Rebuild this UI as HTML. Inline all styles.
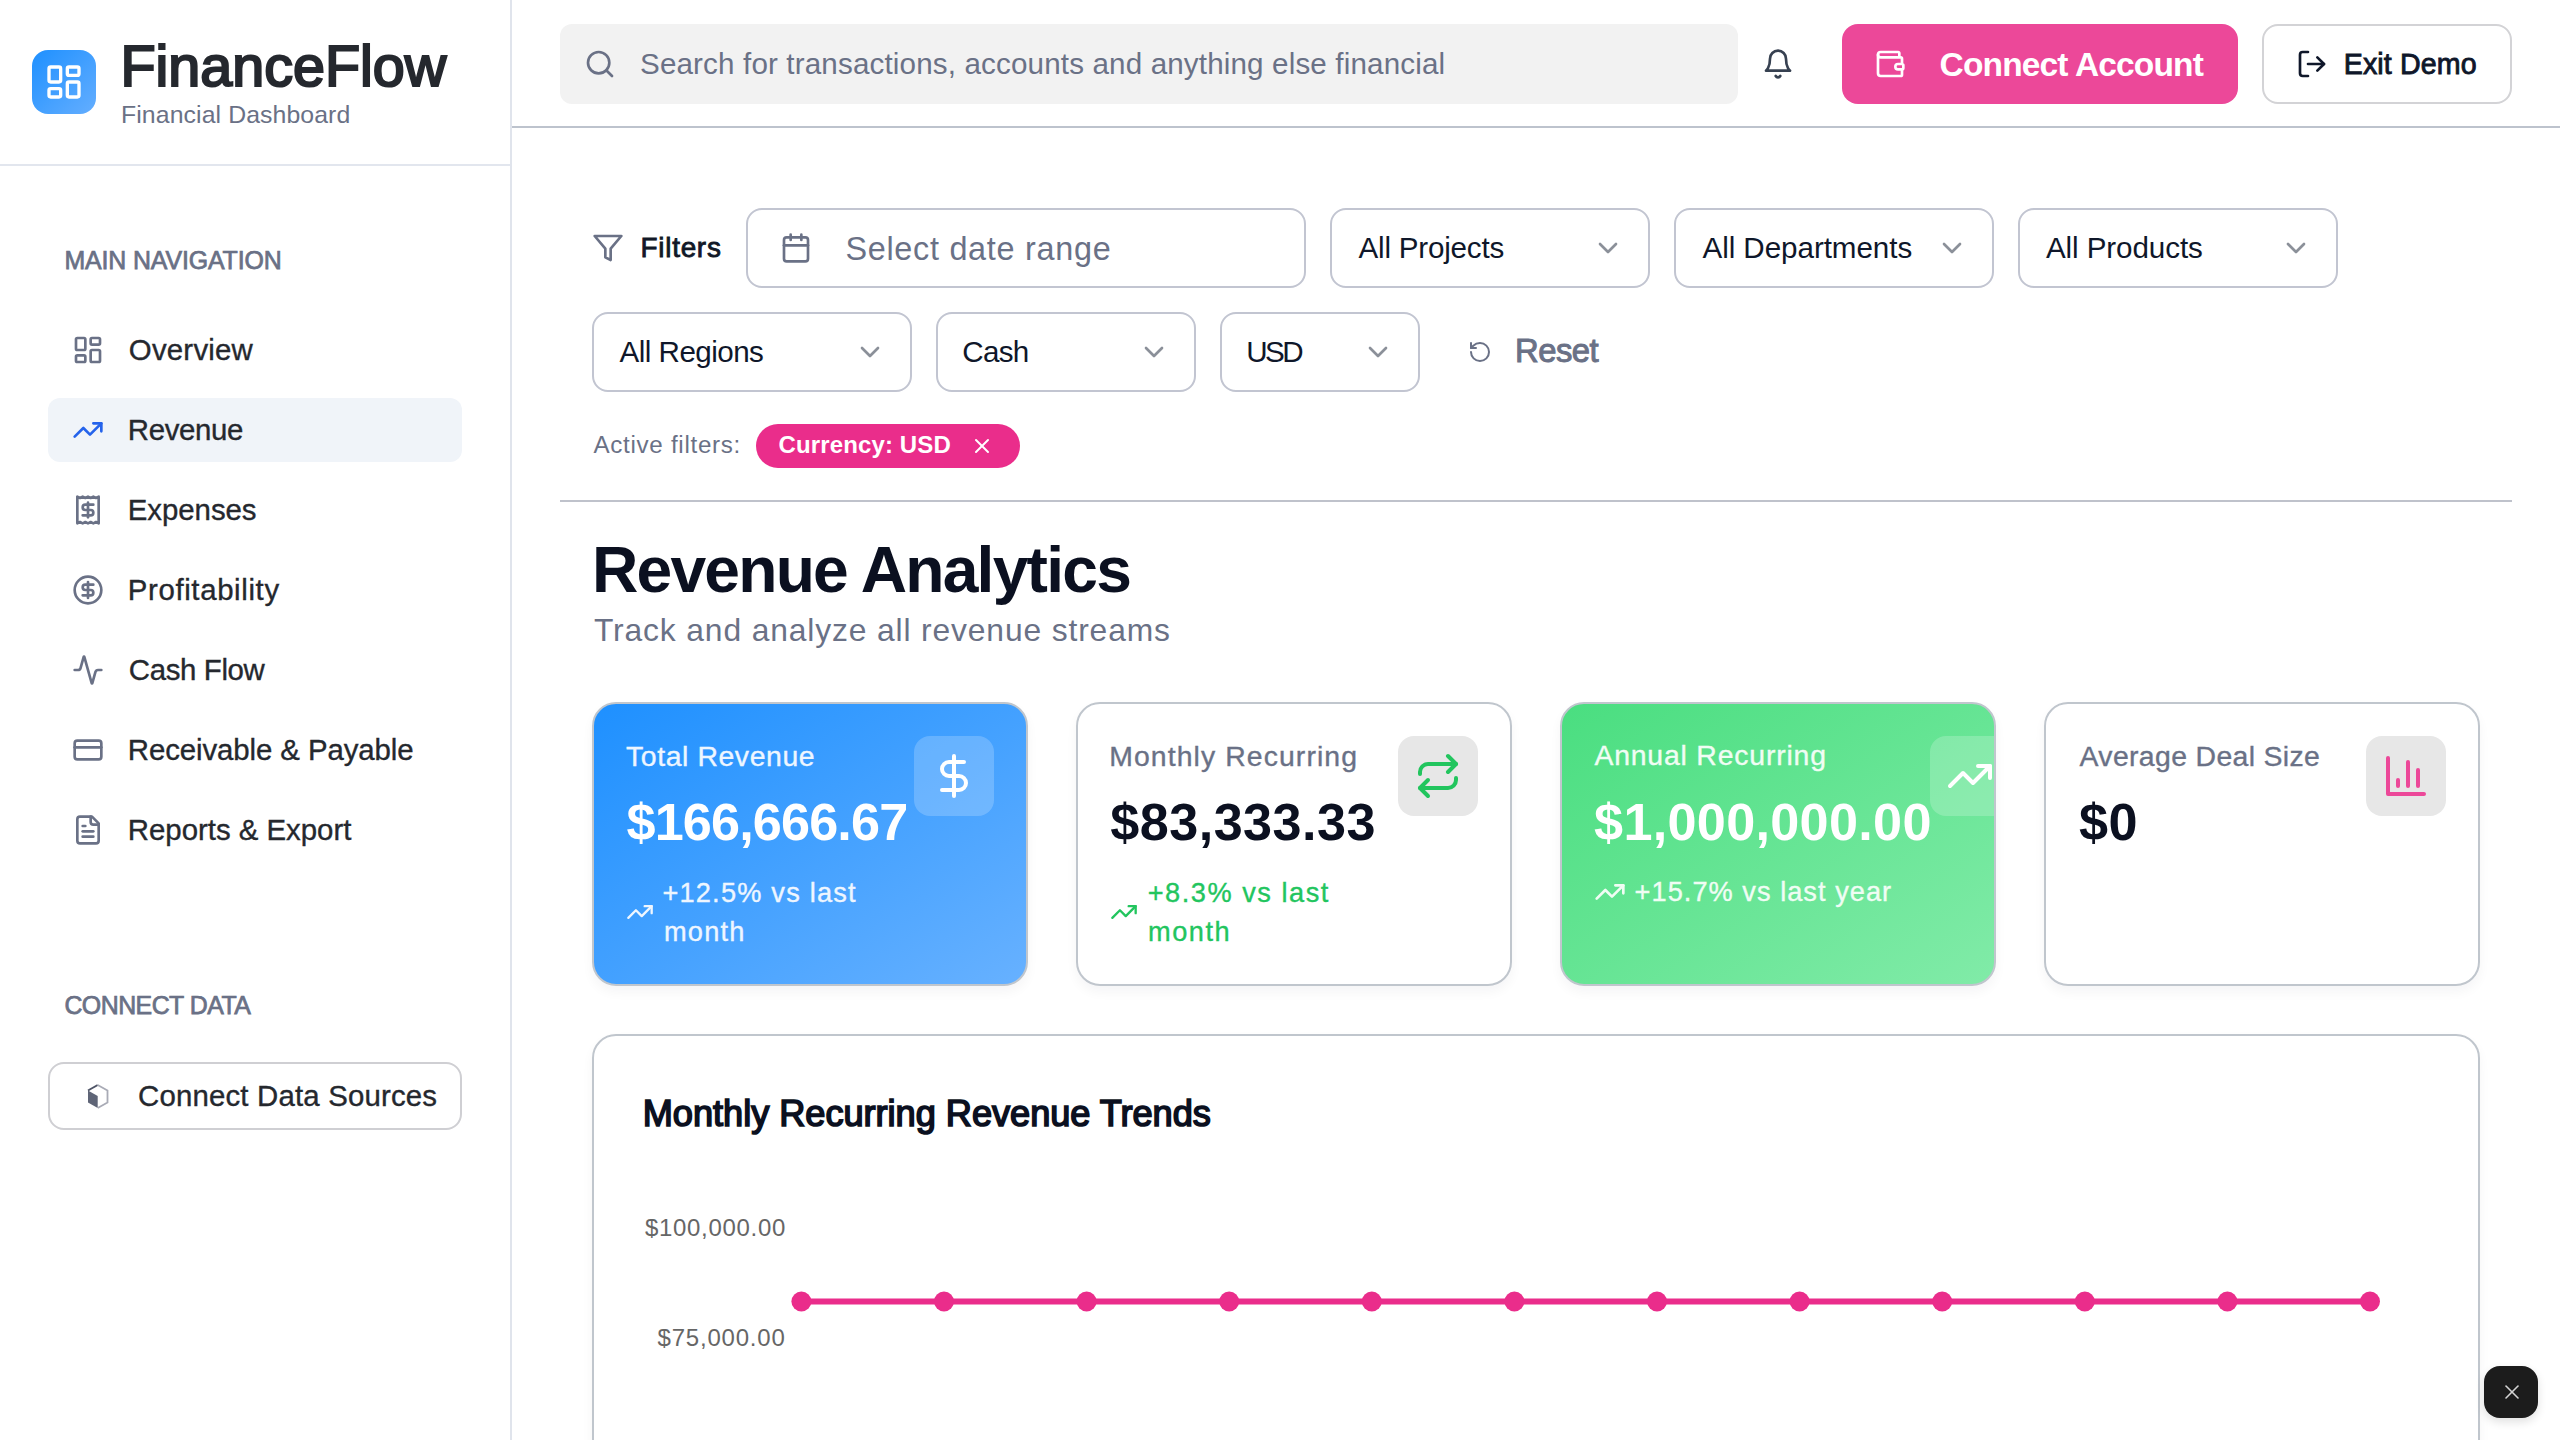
<!DOCTYPE html>
<html><head><meta charset="utf-8"><title>FinanceFlow - Revenue Analytics</title>
<style>
html,body{margin:0;padding:0;}
body{width:2560px;height:1440px;overflow:hidden;position:relative;background:#ffffff;font-family:"Liberation Sans",sans-serif;}
.t{position:absolute;white-space:nowrap;}
.b{position:absolute;}
.i{position:absolute;overflow:visible;}
@media (max-width:1400px){html{zoom:0.5;}}
</style></head><body>
<div class="b" style="left:510px;top:0px;width:2px;height:1440px;background:#e0e4ec;"></div>
<div class="b" style="left:0px;top:164px;width:510px;height:2px;background:#e2e6ee;"></div>
<div class="b" style="left:32px;top:50px;width:64px;height:64px;border-radius:16px;background:linear-gradient(to bottom right,#1e90ff 0%,#64aeff 100%);"></div>
<svg class="i" style="left:44px;top:62px;" width="40" height="40" viewBox="0 0 24 24" fill="none" stroke="#ffffff" stroke-width="2" stroke-linecap="round" stroke-linejoin="round"><rect width="7" height="9" x="3" y="3" rx="1"/><rect width="7" height="5" x="14" y="3" rx="1"/><rect width="7" height="9" x="14" y="12" rx="1"/><rect width="7" height="5" x="3" y="16" rx="1"/></svg>
<div class="t" style="left:120.40px;top:37.55px;font-size:57.5px;line-height:57.5px;color:#25282e;letter-spacing:0.0px;-webkit-text-stroke:2.19px #25282e;">FinanceFlow</div>
<div class="t" style="left:121.00px;top:102.60px;font-size:24.8px;line-height:24.8px;color:#6a7186;letter-spacing:0.101px;">Financial Dashboard</div>
<div class="t" style="left:64.40px;top:248.45px;font-size:24.9px;line-height:24.9px;color:#6a7186;letter-spacing:-0.122px;-webkit-text-stroke:0.75px #6a7186;">MAIN NAVIGATION</div>
<div class="b" style="left:48px;top:398px;width:414px;height:64px;border-radius:12px;background:#f0f4f9;"></div>
<svg class="i" style="left:72px;top:334px;" width="32" height="32" viewBox="0 0 24 24" fill="none" stroke="#6a7186" stroke-width="2" stroke-linecap="round" stroke-linejoin="round"><rect width="7" height="9" x="3" y="3" rx="1"/><rect width="7" height="5" x="14" y="3" rx="1"/><rect width="7" height="9" x="14" y="12" rx="1"/><rect width="7" height="5" x="3" y="16" rx="1"/></svg>
<div class="t" style="left:128.80px;top:334.60px;font-size:29.4px;line-height:29.4px;color:#25282e;letter-spacing:0.22399999999999998px;-webkit-text-stroke:0.35px #25282e;">Overview</div>
<svg class="i" style="left:72px;top:414px;" width="32" height="32" viewBox="0 0 24 24" fill="none" stroke="#2563eb" stroke-width="2" stroke-linecap="round" stroke-linejoin="round"><polyline points="22 7 13.5 15.5 8.5 10.5 2 17"/><polyline points="16 7 22 7 22 13"/></svg>
<div class="t" style="left:127.80px;top:414.60px;font-size:29.4px;line-height:29.4px;color:#25282e;letter-spacing:-0.369px;-webkit-text-stroke:0.35px #25282e;">Revenue</div>
<svg class="i" style="left:72px;top:494px;" width="32" height="32" viewBox="0 0 24 24" fill="none" stroke="#6a7186" stroke-width="2" stroke-linecap="round" stroke-linejoin="round"><path d="M4 2v20l2-1 2 1 2-1 2 1 2-1 2 1 2-1 2 1V2l-2 1-2-1-2 1-2-1-2 1-2-1-2 1Z"/><path d="M16 8h-6a2 2 0 1 0 0 4h4a2 2 0 1 1 0 4H8"/><path d="M12 17.5v-11"/></svg>
<div class="t" style="left:127.80px;top:494.60px;font-size:29.4px;line-height:29.4px;color:#25282e;letter-spacing:-0.050000000000000044px;-webkit-text-stroke:0.35px #25282e;">Expenses</div>
<svg class="i" style="left:72px;top:574px;" width="32" height="32" viewBox="0 0 24 24" fill="none" stroke="#6a7186" stroke-width="2" stroke-linecap="round" stroke-linejoin="round"><circle cx="12" cy="12" r="10"/><path d="M16 8h-6a2 2 0 1 0 0 4h4a2 2 0 1 1 0 4H8"/><path d="M12 18V6"/></svg>
<div class="t" style="left:127.80px;top:574.60px;font-size:29.4px;line-height:29.4px;color:#25282e;letter-spacing:0.628px;-webkit-text-stroke:0.35px #25282e;">Profitability</div>
<svg class="i" style="left:72px;top:654px;" width="32" height="32" viewBox="0 0 24 24" fill="none" stroke="#6a7186" stroke-width="2" stroke-linecap="round" stroke-linejoin="round"><path d="M22 12h-2.48a2 2 0 0 0-1.93 1.46l-2.35 8.36a.25.25 0 0 1-.48 0L9.24 2.18a.25.25 0 0 0-.48 0l-2.35 8.36A2 2 0 0 1 4.49 12H2"/></svg>
<div class="t" style="left:128.80px;top:654.60px;font-size:29.4px;line-height:29.4px;color:#25282e;letter-spacing:-0.35px;-webkit-text-stroke:0.35px #25282e;">Cash Flow</div>
<svg class="i" style="left:72px;top:734px;" width="32" height="32" viewBox="0 0 24 24" fill="none" stroke="#6a7186" stroke-width="2" stroke-linecap="round" stroke-linejoin="round"><rect width="20" height="14" x="2" y="5" rx="2"/><line x1="2" x2="22" y1="10" y2="10"/></svg>
<div class="t" style="left:127.80px;top:734.60px;font-size:29.4px;line-height:29.4px;color:#25282e;letter-spacing:-0.09399999999999997px;-webkit-text-stroke:0.35px #25282e;">Receivable &amp; Payable</div>
<svg class="i" style="left:72px;top:814px;" width="32" height="32" viewBox="0 0 24 24" fill="none" stroke="#6a7186" stroke-width="2" stroke-linecap="round" stroke-linejoin="round"><path d="M15 2H6a2 2 0 0 0-2 2v16a2 2 0 0 0 2 2h12a2 2 0 0 0 2-2V7Z"/><path d="M14 2v4a2 2 0 0 0 2 2h4"/><path d="M10 9H8"/><path d="M16 13H8"/><path d="M16 17H8"/></svg>
<div class="t" style="left:127.80px;top:814.60px;font-size:29.4px;line-height:29.4px;color:#25282e;letter-spacing:-0.016000000000000014px;-webkit-text-stroke:0.35px #25282e;">Reports &amp; Export</div>
<div class="t" style="left:64.40px;top:992.55px;font-size:24.9px;line-height:24.9px;color:#6a7186;letter-spacing:-0.523px;-webkit-text-stroke:0.75px #6a7186;">CONNECT DATA</div>
<div class="b" style="left:48px;top:1062px;width:414px;height:68px;border:2px solid #cfcfd3;border-radius:16px;box-sizing:border-box;background:#fff;"></div>
<svg class="i" style="left:86px;top:1083px" width="24" height="27" viewBox="0 0 24 27"><polygon points="2,7.5 11.7,13 11.7,25 2,19.5" fill="#5f6577"/><polyline points="2,7.5 11.7,2" fill="none" stroke="#4e5466" stroke-width="2"/><polyline points="11.7,2 21.5,7.5 21.5,19.5 11.7,25 M2,7.5 11.7,13 21.5,7.5 M11.7,13 11.7,25" fill="none" stroke="#a9abb6" stroke-width="1.8"/></svg>
<div class="t" style="left:138.00px;top:1080.80px;font-size:29.4px;line-height:29.4px;color:#25282e;letter-spacing:0.175px;-webkit-text-stroke:0.35px #25282e;">Connect Data Sources</div>
<div class="b" style="left:512px;top:126px;width:2048px;height:2px;background:#bdc3cd;"></div>
<div class="b" style="left:560px;top:24px;width:1178px;height:80px;border-radius:12px;background:#f2f2f2;"></div>
<svg class="i" style="left:584px;top:48px;" width="32" height="32" viewBox="0 0 24 24" fill="none" stroke="#6a7186" stroke-width="2" stroke-linecap="round" stroke-linejoin="round"><circle cx="11" cy="11" r="8"/><path d="m21 21-4.3-4.3"/></svg>
<div class="t" style="left:640.00px;top:48.70px;font-size:29.6px;line-height:29.6px;color:#6a7186;letter-spacing:0.14799999999999996px;">Search for transactions, accounts and anything else financial</div>
<svg class="i" style="left:1762px;top:48px;" width="32" height="32" viewBox="0 0 24 24" fill="none" stroke="#374151" stroke-width="2" stroke-linecap="round" stroke-linejoin="round"><path d="M6 8a6 6 0 0 1 12 0c0 7 3 9 3 9H3s3-2 3-9"/><path d="M10.3 21a1.94 1.94 0 0 0 3.4 0"/></svg>
<div class="b" style="left:1842px;top:24px;width:396px;height:80px;border-radius:16px;background:#ec4899;"></div>
<svg class="i" style="left:1874px;top:48px;" width="32" height="32" viewBox="0 0 24 24" fill="none" stroke="#ffffff" stroke-width="2" stroke-linecap="round" stroke-linejoin="round"><path d="M19 7V4a1 1 0 0 0-1-1H5a2 2 0 0 0 0 4h15a1 1 0 0 1 1 1v4h-3a2 2 0 0 0 0 4h3a1 1 0 0 0 1-1v-2a1 1 0 0 0-1-1"/><path d="M3 5v14a2 2 0 0 0 2 2h15a1 1 0 0 0 1-1v-4"/></svg>
<div class="t" style="left:1939.60px;top:47.55px;font-size:33.5px;line-height:33.5px;font-weight:700;color:#ffffff;letter-spacing:-0.8460000000000001px;">Connect Account</div>
<div class="b" style="left:2262px;top:24px;width:250px;height:80px;border:2px solid #d3d3d6;border-radius:16px;box-sizing:border-box;background:#fff;"></div>
<svg class="i" style="left:2296px;top:48px;" width="32" height="32" viewBox="0 0 24 24" fill="none" stroke="#0f172a" stroke-width="2" stroke-linecap="round" stroke-linejoin="round"><path d="M9 21H5a2 2 0 0 1-2-2V5a2 2 0 0 1 2-2h4"/><polyline points="16 17 21 12 16 7"/><line x1="21" x2="9" y1="12" y2="12"/></svg>
<div class="t" style="left:2343.70px;top:49.60px;font-size:28.6px;line-height:28.6px;color:#0f172a;letter-spacing:0.125px;-webkit-text-stroke:0.86px #0f172a;">Exit Demo</div>
<svg class="i" style="left:592px;top:232px;" width="32" height="32" viewBox="0 0 24 24" fill="none" stroke="#6a7186" stroke-width="2" stroke-linecap="round" stroke-linejoin="round"><polygon points="22 3 2 3 10 12.46 10 19 14 21 14 12.46 22 3"/></svg>
<div class="t" style="left:640.60px;top:234.15px;font-size:27.9px;line-height:27.9px;color:#111827;letter-spacing:0.718px;-webkit-text-stroke:0.84px #111827;">Filters</div>
<div class="b" style="left:746px;top:208px;width:560px;height:80px;border:2px solid #c2c5d1;border-radius:16px;box-sizing:border-box;background:#fff;"></div>
<svg class="i" style="left:780px;top:232px;" width="32" height="32" viewBox="0 0 24 24" fill="none" stroke="#6a7186" stroke-width="2" stroke-linecap="round" stroke-linejoin="round"><path d="M8 2v4"/><path d="M16 2v4"/><rect width="18" height="18" x="3" y="4" rx="2"/><path d="M3 10h18"/></svg>
<div class="t" style="left:845.40px;top:232.90px;font-size:32.4px;line-height:32.4px;color:#6a7186;letter-spacing:0.71px;">Select date range</div>
<div class="b" style="left:1330px;top:208px;width:320px;height:80px;border:2px solid #c2c5d1;border-radius:16px;box-sizing:border-box;background:#fff;"></div>
<div class="t" style="left:1358.50px;top:232.60px;font-size:29.6px;line-height:29.6px;color:#0f172a;letter-spacing:-0.203px;">All Projects</div>
<svg class="i" style="left:1592px;top:232px;" width="32" height="32" viewBox="0 0 24 24" fill="none" stroke="#8b9099" stroke-width="2" stroke-linecap="round" stroke-linejoin="round"><path d="m6 9 6 6 6-6"/></svg>
<div class="b" style="left:1674px;top:208px;width:320px;height:80px;border:2px solid #c2c5d1;border-radius:16px;box-sizing:border-box;background:#fff;"></div>
<div class="t" style="left:1702.50px;top:232.60px;font-size:29.6px;line-height:29.6px;color:#0f172a;letter-spacing:-0.059px;">All Departments</div>
<svg class="i" style="left:1936px;top:232px;" width="32" height="32" viewBox="0 0 24 24" fill="none" stroke="#8b9099" stroke-width="2" stroke-linecap="round" stroke-linejoin="round"><path d="m6 9 6 6 6-6"/></svg>
<div class="b" style="left:2018px;top:208px;width:320px;height:80px;border:2px solid #c2c5d1;border-radius:16px;box-sizing:border-box;background:#fff;"></div>
<div class="t" style="left:2045.90px;top:232.60px;font-size:29.6px;line-height:29.6px;color:#0f172a;letter-spacing:-0.08599999999999997px;">All Products</div>
<svg class="i" style="left:2280px;top:232px;" width="32" height="32" viewBox="0 0 24 24" fill="none" stroke="#8b9099" stroke-width="2" stroke-linecap="round" stroke-linejoin="round"><path d="m6 9 6 6 6-6"/></svg>
<div class="b" style="left:592px;top:312px;width:320px;height:80px;border:2px solid #c2c5d1;border-radius:16px;box-sizing:border-box;background:#fff;"></div>
<div class="t" style="left:619.60px;top:336.60px;font-size:29.6px;line-height:29.6px;color:#0f172a;letter-spacing:-0.54px;">All Regions</div>
<svg class="i" style="left:854px;top:336px;" width="32" height="32" viewBox="0 0 24 24" fill="none" stroke="#8b9099" stroke-width="2" stroke-linecap="round" stroke-linejoin="round"><path d="m6 9 6 6 6-6"/></svg>
<div class="b" style="left:936px;top:312px;width:260px;height:80px;border:2px solid #c2c5d1;border-radius:16px;box-sizing:border-box;background:#fff;"></div>
<div class="t" style="left:962.30px;top:336.60px;font-size:29.6px;line-height:29.6px;color:#0f172a;letter-spacing:-0.7290000000000001px;">Cash</div>
<svg class="i" style="left:1138px;top:336px;" width="32" height="32" viewBox="0 0 24 24" fill="none" stroke="#8b9099" stroke-width="2" stroke-linecap="round" stroke-linejoin="round"><path d="m6 9 6 6 6-6"/></svg>
<div class="b" style="left:1220px;top:312px;width:200px;height:80px;border:2px solid #c2c5d1;border-radius:16px;box-sizing:border-box;background:#fff;"></div>
<div class="t" style="left:1246.20px;top:336.60px;font-size:29.6px;line-height:29.6px;color:#0f172a;letter-spacing:-2.5px;">USD</div>
<svg class="i" style="left:1362px;top:336px;" width="32" height="32" viewBox="0 0 24 24" fill="none" stroke="#8b9099" stroke-width="2" stroke-linecap="round" stroke-linejoin="round"><path d="m6 9 6 6 6-6"/></svg>
<svg class="i" style="left:1468px;top:340px;" width="24" height="24" viewBox="0 0 24 24" fill="none" stroke="#6a7186" stroke-width="2" stroke-linecap="round" stroke-linejoin="round"><path d="M3 12a9 9 0 1 0 9-9 9.75 9.75 0 0 0-6.74 2.74L3 8"/><path d="M3 3v5h5"/></svg>
<div class="t" style="left:1515.00px;top:335.10px;font-size:32.8px;line-height:32.8px;color:#6a7186;letter-spacing:-0.5px;-webkit-text-stroke:0.98px #6a7186;">Reset</div>
<div class="t" style="left:593.40px;top:432.70px;font-size:24.2px;line-height:24.2px;color:#6a7186;letter-spacing:0.701px;">Active filters:</div>
<div class="b" style="left:756px;top:424px;width:264px;height:44px;border-radius:22px;background:#ea2d8b;"></div>
<div class="t" style="left:778.50px;top:432.80px;font-size:24px;line-height:24px;font-weight:700;color:#ffffff;letter-spacing:0.127px;">Currency: USD</div>
<svg class="i" style="left:970px;top:434px;" width="24" height="24" viewBox="0 0 24 24" fill="none" stroke="#ffffff" stroke-width="2" stroke-linecap="round" stroke-linejoin="round"><path d="M18 6 6 18"/><path d="m6 6 12 12"/></svg>
<div class="b" style="left:560px;top:500px;width:1952px;height:2px;background:#bfc2cb;"></div>
<div class="t" style="left:591.90px;top:538.40px;font-size:64.2px;line-height:64.2px;font-weight:700;color:#0b1020;letter-spacing:-1.779px;">Revenue Analytics</div>
<div class="t" style="left:594.00px;top:615.00px;font-size:31.8px;line-height:31.8px;color:#6a7186;letter-spacing:0.861px;">Track and analyze all revenue streams</div>
<div style="position:absolute;top:702px;width:436px;height:284px;border-radius:24px;box-sizing:border-box;overflow:hidden;border:2px solid #c0c6cd;box-shadow:0 6px 12px rgba(15,23,42,0.045);left:592px;background:linear-gradient(to bottom right,#1e90ff 0%,#67b1ff 100%);">
</div>
<div class="b" style="left:914px;top:736px;width:80px;height:80px;border-radius:16px;background:rgba(255,255,255,0.2);"></div>
<svg class="i" style="left:930px;top:752px;" width="48" height="48" viewBox="0 0 24 24" fill="none" stroke="#ffffff" stroke-width="2" stroke-linecap="round" stroke-linejoin="round"><line x1="12" x2="12" y1="2" y2="22"/><path d="M17 5H9.5a3.5 3.5 0 0 0 0 7h5a3.5 3.5 0 0 1 0 7H6"/></svg>
<div class="t" style="left:626.00px;top:741.80px;font-size:28.4px;line-height:28.4px;color:#eef6ff;letter-spacing:0.5870000000000001px;-webkit-text-stroke:0.35px #eef6ff;">Total Revenue</div>
<div class="t" style="left:626.50px;top:795.90px;font-size:52.2px;line-height:52.2px;font-weight:700;color:#ffffff;letter-spacing:-0.8500000000000001px;">$166,666.67</div>
<svg class="i" style="left:626px;top:898px;" width="28" height="28" viewBox="0 0 24 24" fill="none" stroke="#eef6ff" stroke-width="2" stroke-linecap="round" stroke-linejoin="round"><polyline points="22 7 13.5 15.5 8.5 10.5 2 17"/><polyline points="16 7 22 7 22 13"/></svg>
<div class="t" style="left:662.40px;top:878.60px;font-size:27.2px;line-height:27.2px;color:#eef6ff;letter-spacing:1.204px;-webkit-text-stroke:0.35px #eef6ff;">+12.5% vs last</div>
<div class="t" style="left:664.00px;top:918.15px;font-size:27.2px;line-height:27.2px;color:#eef6ff;letter-spacing:1.204px;-webkit-text-stroke:0.35px #eef6ff;">month</div>
<div style="position:absolute;top:702px;width:436px;height:284px;border-radius:24px;box-sizing:border-box;overflow:hidden;border:2px solid #c0c6cd;box-shadow:0 6px 12px rgba(15,23,42,0.045);left:1076px;background:#ffffff;">
</div>
<div class="b" style="left:1398px;top:736px;width:80px;height:80px;border-radius:16px;background:#e7e7e7;"></div>
<svg class="i" style="left:1414px;top:752px;" width="48" height="48" viewBox="0 0 24 24" fill="none" stroke="#22c55e" stroke-width="2" stroke-linecap="round" stroke-linejoin="round"><path d="m17 2 4 4-4 4"/><path d="M3 11v-1a4 4 0 0 1 4-4h14"/><path d="m7 22-4-4 4-4"/><path d="M21 13v1a4 4 0 0 1-4 4H3"/></svg>
<div class="t" style="left:1109.20px;top:741.80px;font-size:28.4px;line-height:28.4px;color:#6a7186;letter-spacing:1.092px;-webkit-text-stroke:0.35px #6a7186;">Monthly Recurring</div>
<div class="t" style="left:1110.20px;top:795.90px;font-size:52.2px;line-height:52.2px;font-weight:700;color:#0b1020;letter-spacing:0.46799999999999997px;">$83,333.33</div>
<svg class="i" style="left:1110px;top:898px;" width="28" height="28" viewBox="0 0 24 24" fill="none" stroke="#22c55e" stroke-width="2" stroke-linecap="round" stroke-linejoin="round"><polyline points="22 7 13.5 15.5 8.5 10.5 2 17"/><polyline points="16 7 22 7 22 13"/></svg>
<div class="t" style="left:1147.70px;top:878.60px;font-size:27.2px;line-height:27.2px;color:#22c55e;letter-spacing:1.5219999999999998px;-webkit-text-stroke:0.35px #22c55e;">+8.3% vs last</div>
<div class="t" style="left:1148.00px;top:918.15px;font-size:27.2px;line-height:27.2px;color:#22c55e;letter-spacing:1.5219999999999998px;-webkit-text-stroke:0.35px #22c55e;">month</div>
<div style="position:absolute;top:702px;width:436px;height:284px;border-radius:24px;box-sizing:border-box;overflow:hidden;border:2px solid #c0c6cd;box-shadow:0 6px 12px rgba(15,23,42,0.045);left:1560px;background:linear-gradient(to bottom right,#4ade80 0%,#81eba8 100%);">
<div class="b" style="left:368px;top:32px;width:80px;height:80px;border-radius:16px;background:rgba(255,255,255,0.2);"></div>
<svg class="i" style="left:384px;top:48px" width="48" height="48" viewBox="0 0 24 24" fill="none" stroke="#ffffff" stroke-width="2" stroke-linecap="round" stroke-linejoin="round"><polyline points="22 7 13.5 15.5 8.5 10.5 2 17"/><polyline points="16 7 22 7 22 13"/></svg>
</div>
<div class="t" style="left:1594.40px;top:741.30px;font-size:28.4px;line-height:28.4px;color:#f0fdf4;letter-spacing:0.812px;-webkit-text-stroke:0.35px #f0fdf4;">Annual Recurring</div>
<div class="t" style="left:1594.10px;top:795.90px;font-size:52.2px;line-height:52.2px;font-weight:700;color:#ffffff;letter-spacing:0.29799999999999993px;">$1,000,000.00</div>
<svg class="i" style="left:1594px;top:876.3px;" width="32" height="32" viewBox="0 0 24 24" fill="none" stroke="#f0fdf4" stroke-width="2" stroke-linecap="round" stroke-linejoin="round"><polyline points="22 7 13.5 15.5 8.5 10.5 2 17"/><polyline points="16 7 22 7 22 13"/></svg>
<div class="t" style="left:1634.60px;top:878.30px;font-size:27.2px;line-height:27.2px;color:#f0fdf4;letter-spacing:1.0299999999999998px;-webkit-text-stroke:0.35px #f0fdf4;">+15.7% vs last year</div>
<div style="position:absolute;top:702px;width:436px;height:284px;border-radius:24px;box-sizing:border-box;overflow:hidden;border:2px solid #c0c6cd;box-shadow:0 6px 12px rgba(15,23,42,0.045);left:2044px;background:#ffffff;">
</div>
<div class="b" style="left:2366px;top:736px;width:80px;height:80px;border-radius:16px;background:#e7e7e7;"></div>
<svg class="i" style="left:2382px;top:752px;" width="48" height="48" viewBox="0 0 24 24" fill="none" stroke="#ec4899" stroke-width="2" stroke-linecap="round" stroke-linejoin="round"><path d="M3 3v18h18"/><path d="M18 17V9"/><path d="M13 17V5"/><path d="M8 17v-3"/></svg>
<div class="t" style="left:2079.60px;top:741.80px;font-size:28.4px;line-height:28.4px;color:#6a7186;letter-spacing:0.35300000000000004px;-webkit-text-stroke:0.35px #6a7186;">Average Deal Size</div>
<div class="t" style="left:2079.00px;top:795.90px;font-size:52.2px;line-height:52.2px;font-weight:700;color:#0b1020;letter-spacing:0.46799999999999997px;">$0</div>
<div class="b" style="left:592px;top:1034px;width:1888px;height:700px;border:2px solid #c0c6cd;border-radius:24px;box-sizing:border-box;background:#fff;box-shadow:0 6px 12px rgba(15,23,42,0.045);"></div>
<div class="t" style="left:642.75px;top:1095.65px;font-size:36.2px;line-height:36.2px;color:#0b1020;letter-spacing:-0.03600000000000003px;-webkit-text-stroke:1.63px #0b1020;">Monthly Recurring Revenue Trends</div>
<div class="t" style="left:644.90px;top:1215.80px;font-size:24px;line-height:24px;color:#666666;letter-spacing:0.7px;">$100,000.00</div>
<div class="t" style="left:657.50px;top:1326.20px;font-size:24px;line-height:24px;color:#666666;letter-spacing:0.795px;">$75,000.00</div>
<div class="t" style="left:657.50px;top:1436.50px;font-size:24px;line-height:24px;color:#666666;letter-spacing:0.795px;">$50,000.00</div>
<svg class="i" style="left:0;top:0" width="2560" height="1440"><polyline points="801.4,1301.5 944.0,1301.5 1086.6,1301.5 1229.2,1301.5 1371.8,1301.5 1514.4,1301.5 1657.0,1301.5 1799.6,1301.5 1942.2,1301.5 2084.8,1301.5 2227.4,1301.5 2370.0,1301.5" fill="none" stroke="#ea2d8b" stroke-width="6"/><circle cx="801.4" cy="1301.5" r="10" fill="#ea2d8b"/><circle cx="944.0" cy="1301.5" r="10" fill="#ea2d8b"/><circle cx="1086.6" cy="1301.5" r="10" fill="#ea2d8b"/><circle cx="1229.2" cy="1301.5" r="10" fill="#ea2d8b"/><circle cx="1371.8" cy="1301.5" r="10" fill="#ea2d8b"/><circle cx="1514.4" cy="1301.5" r="10" fill="#ea2d8b"/><circle cx="1657.0" cy="1301.5" r="10" fill="#ea2d8b"/><circle cx="1799.6" cy="1301.5" r="10" fill="#ea2d8b"/><circle cx="1942.2" cy="1301.5" r="10" fill="#ea2d8b"/><circle cx="2084.8" cy="1301.5" r="10" fill="#ea2d8b"/><circle cx="2227.4" cy="1301.5" r="10" fill="#ea2d8b"/><circle cx="2370.0" cy="1301.5" r="10" fill="#ea2d8b"/></svg>
<div class="b" style="left:2484px;top:1366px;width:54px;height:52px;border-radius:16px;background:#1c1c1c;box-shadow:0 4px 10px rgba(0,0,0,0.12);"></div>
<svg class="i" style="left:2500px;top:1380px;" width="24" height="24" viewBox="0 0 24 24" fill="none" stroke="#d4d4d4" stroke-width="1.6" stroke-linecap="round" stroke-linejoin="round"><path d="M18 6 6 18"/><path d="m6 6 12 12"/></svg>
</body></html>
